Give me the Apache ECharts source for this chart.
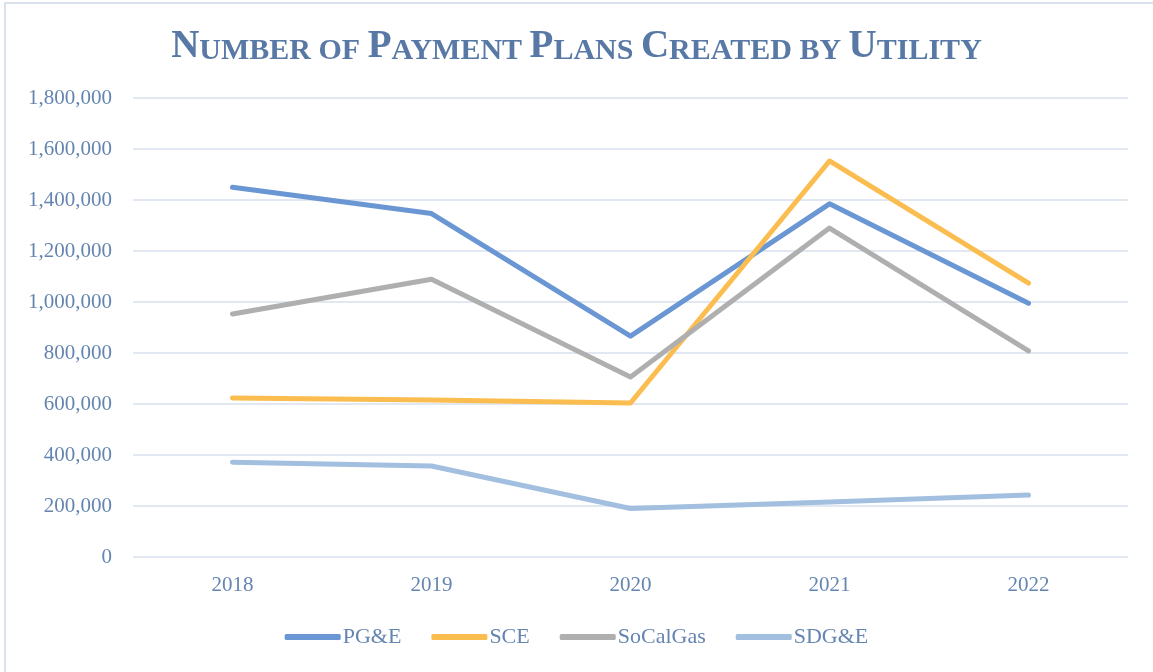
<!DOCTYPE html>
<html>
<head>
<meta charset="utf-8">
<title>Payment Plans by Utility</title>
<script src="https://cdn.jsdelivr.net/npm/echarts@6/dist/echarts.min.js"></script>
<style>
	html,body{margin:0;padding:0;background:#fff;}
	#main{width:1153px;height:672px;}
</style>
</head>
<body>
<div id="main"></div>
<script>
	// data
	var years = ['2018', '2019', '2020', '2021', '2022'];
	var pge = [1450000, 1347000, 866000, 1385000, 995000];
	var sce = [624000, 616000, 604000, 1553000, 1074000];
	var socalgas = [953000, 1089000, 706000, 1290000, 808000];
	var sdge = [372000, 357000, 190000, 216000, 243000];
	var yTicks = [0, 200000, 400000, 600000, 800000, 1000000, 1200000, 1400000, 1600000, 1800000];

	var serif = '"Liberation Serif", "DejaVu Serif", serif';
	var textColor = '#6585b1';

	function makeLine(name, data, color){
		return {
			name: name,
			type: 'line',
			data: data,
			symbol: 'none',
			smooth: false,
			lineStyle: {color: color, width: 5, cap: 'round', join: 'round'},
			itemStyle: {color: color}
		};
	}

	var myChart = echarts.init(document.getElementById('main'));
	var option = {
		backgroundColor: '#fff',
		animation: false,
		title: {
			left: 'center',
			top: 22,
			text: '{a|N}{b|UMBER OF }{a|P}{b|AYMENT }{a|P}{b|LANS }{a|C}{b|REATED BY }{a|U}{b|TILITY}',
			textStyle: {
				rich: {
					a: {fontFamily: serif, fontWeight: 'bold', fontSize: 39, lineHeight: 39, color: '#5878a5', verticalAlign: 'bottom'},
					b: {fontFamily: serif, fontWeight: 'bold', fontSize: 30, lineHeight: 33, color: '#5878a5', verticalAlign: 'bottom'}
				}
			}
		},
		graphic: [{
			type: 'rect',
			shape: {x: 5, y: 3, width: 1300, height: 800},
			style: {fill: 'none', stroke: '#d9e2ec', lineWidth: 2},
			silent: true
		}],
		legend: {
			bottom: 19,
			left: 'center',
			icon: 'roundRect',
			itemWidth: 56,
			itemHeight: 6,
			itemGap: 30,
			textStyle: {fontFamily: serif, fontSize: 22, color: textColor, padding: [0, 0, 0, -3]},
			data: ['PG&E', 'SCE', 'SoCalGas', 'SDG&E']
		},
		grid: {left: 133, right: 25, top: 98, bottom: 115, containLabel: false},
		xAxis: {
			type: 'category',
			data: years,
			boundaryGap: true,
			axisLine: {show: false},
			axisTick: {show: false},
			axisLabel: {fontFamily: serif, fontSize: 21, color: textColor, margin: 18}
		},
		yAxis: {
			type: 'value',
			min: yTicks[0],
			max: yTicks[yTicks.length - 1],
			interval: 200000,
			axisLine: {show: false},
			axisTick: {show: false},
			splitLine: {lineStyle: {color: '#d9e1ec', width: 1.5}},
			axisLabel: {
				fontFamily: serif, fontSize: 21, color: textColor, margin: 21,
				formatter: function(v){ return v.toLocaleString('en-US'); }
			}
		},
		series: [
			makeLine('PG&E', pge, '#6a97d3'),
			makeLine('SCE', sce, '#fbbd4f'),
			makeLine('SoCalGas', socalgas, '#afafaf'),
			makeLine('SDG&E', sdge, '#a3bfdf')
		]
	};
	myChart.setOption(option);
</script>
</body>
</html>
